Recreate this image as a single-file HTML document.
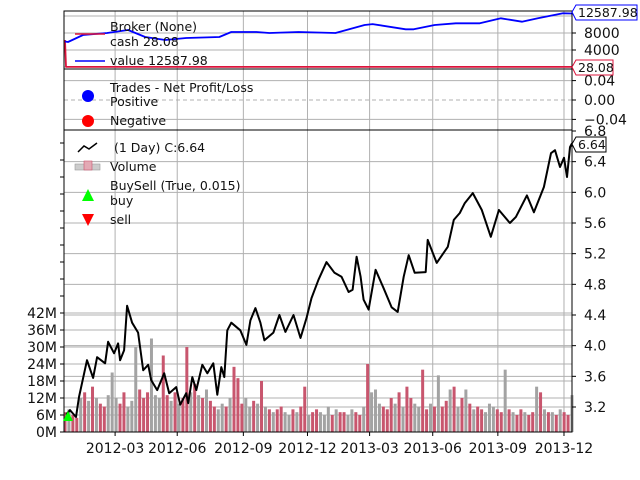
<!DOCTYPE html>
<html><head><meta charset="utf-8"><style>
html,body{margin:0;padding:0;background:#fff;}
svg{display:block;font-family:"DejaVu Sans","Liberation Sans",sans-serif;}
</style></head><body>
<svg id="chart" width="640" height="480" viewBox="0 0 640 480">
<g id="grid"></g>
<g id="bars"></g>
<g id="lines"></g>
<g id="axes"></g>
<g font-size="12.5" fill="#111">
  <line x1="75" y1="34" x2="105" y2="34" stroke="#dc143c" stroke-width="1.5"/>
  <text x="110" y="31">Broker (None)</text>
  <text x="110" y="46">cash 28.08</text>
  <line x1="75" y1="61" x2="105" y2="61" stroke="#0000ff" stroke-width="1.5"/>
  <text x="110" y="65">value 12587.98</text>
</g>
<g font-size="12.5" fill="#111">
  <text x="110" y="92">Trades - Net Profit/Loss</text>
  <circle cx="88" cy="96" r="6" fill="#0000ff"/>
  <text x="110" y="106">Positive</text>
  <circle cx="88" cy="121" r="6" fill="#ff0000"/>
  <text x="110" y="125">Negative</text>
</g>
<g font-size="12.5" fill="#111">
  <polyline points="78,152 84,146 89,149 97,143" fill="none" stroke="#000" stroke-width="1.5"/>
  <text x="114" y="152">(1 Day) C:6.64</text>
  <rect x="75" y="164" width="25" height="6" fill="#ccc" stroke="#999" stroke-width="0.6"/>
  <rect x="84" y="161" width="8" height="9" fill="#e3a9b4" stroke="#c8566e" stroke-width="0.6"/>
  <text x="110" y="171">Volume</text>
  <text x="110" y="190">BuySell (True, 0.015)</text>
  <polygon points="88,189 94,201 82,201" fill="#00ff00"/>
  <text x="110" y="205">buy</text>
  <polygon points="82,214 94,214 88,226" fill="#ff0000"/>
  <text x="110" y="224">sell</text>
</g>
<g font-size="12.5">
  <path d="M572,12 L576,5 L637,5 L637,20 L576,20 Z" fill="#fff" stroke="#0000ff"/>
  <text x="578" y="17" fill="#111">12587.98</text>
  <path d="M572,67 L576,60 L613,60 L613,75 L576,75 Z" fill="#fff" stroke="#dc143c"/>
  <text x="578" y="72" fill="#111">28.08</text>
  <path d="M572,144 L576,137 L606,137 L606,152 L576,152 Z" fill="#fff" stroke="#000"/>
  <text x="578" y="149" fill="#111">6.64</text>
</g>
<polygon points="68,411 73,421 63,421" fill="#00ff00"/>
</svg>
<script>
const tickDates = ["2012-03","2012-06","2012-09","2012-12","2013-03","2013-06","2013-09","2013-12"];
const tickDays = [50,112,178,242,304,367,432,498];
const priceTicks = [3.2,3.6,4.0,4.4,4.8,5.2,5.6,6.0,6.4,6.8];
const volTicks = [0,6,12,18,24,30,36,42];
const valueTicks = [4000,8000];
const tradeTicks = [-0.04,0.00,0.04];
const closeDays = [1,5,11,14,22,28,32,40,43,49,53,55,59,62,67,73,78,83,86,92,99,104,111,115,121,123,127,131,137,142,148,152,156,159,162,166,175,181,185,190,195,199,208,214,220,228,235,241,246,253,261,269,276,283,287,291,295,298,303,310,318,326,332,338,343,349,360,362,371,382,388,394,399,407,416,425,433,444,450,461,468,478,485,489,494,498,501,504,506];
const closeVals = [3.1,3.16,3.07,3.33,3.81,3.58,3.85,3.77,4.05,3.9,4.03,3.81,3.94,4.52,4.3,4.17,3.68,3.75,3.55,3.42,3.64,3.38,3.46,3.23,3.38,3.25,3.59,3.42,3.75,3.64,3.77,3.36,3.72,3.59,4.2,4.3,4.2,4.01,4.33,4.49,4.3,4.07,4.17,4.4,4.18,4.4,4.1,4.36,4.62,4.86,5.09,4.95,4.9,4.7,4.73,5.16,4.9,4.6,4.47,4.99,4.75,4.5,4.44,4.9,5.18,4.95,4.96,5.38,5.08,5.29,5.64,5.73,5.86,5.99,5.77,5.42,5.77,5.6,5.68,5.96,5.74,6.07,6.51,6.55,6.33,6.45,6.2,6.59,6.64];
const valueDays = [0,3,18,42,63,80,100,121,154,166,191,204,233,270,299,307,340,348,369,390,414,435,456,472,497,506];
const valueVals = [6000,5880,7530,8000,8700,7060,6350,6820,7060,8240,8240,8000,8240,8000,9880,10100,8870,8870,9880,10280,10280,11450,10660,11450,12630,12587.98];
const cashDays = [0,1,506];
const cashVals = [6350,28.08,28.08];
const volumes = [7,8,6,5,12,14,11,16,12,10,9,13,21,12,10,14,9,11,30,15,12,14,33,13,12,27,13,11,14,10,12,30,14,17,13,12,15,11,9,8,10,9,12,23,19,10,12,9,11,10,18,9,8,7,8,9,7,6,8,7,9,16,6,7,8,7,6,9,6,8,7,7,6,8,7,6,9,24,14,15,10,9,8,12,10,14,9,16,12,10,9,22,8,10,9,20,9,11,15,16,9,12,15,10,8,9,8,7,10,9,8,7,22,8,7,6,8,7,6,7,16,14,8,7,7,6,8,7,6,13];
const volUp = "rgrrgrgrgrrgggrrgggrrrgggrrgrgrrgrgrgrrggrgrrrggrgrgrgrrggrgrrgrrgggrgrrggrrgrgggrrrgrgrrggrrgrgrrgrgrgrgrrgggrrgrgrrgrrgrgrgrgrrgg";

const NS="http://www.w3.org/2000/svg";
const X0=64, X1=572, NDAYS=506;
const FS=14;
function xs(d){return X0+1+d*(X1-X0-1)/NDAYS;}
function yPrice(v){return 407-(v-3.2)*76.67;}
function yVol(v){return 432-v*17/6;}
function yValue(v){return 50-(v-4000)*17/4000;}
function yTrade(v){return 100-v*485;}
function mk(tag,attrs,parent){const e=document.createElementNS(NS,tag);for(const k in attrs)e.setAttribute(k,attrs[k]);parent.appendChild(e);return e;}
const grid=document.getElementById('grid'),bars=document.getElementById('bars'),lines=document.getElementById('lines'),axes=document.getElementById('axes');
const GC="#b0b0b0";
tickDays.forEach((d,i)=>{
  const x=xs(d);
  [[11,69],[69,130],[130,432]].forEach(p=>{
    const l=mk('line',{x1:x,x2:x,y1:p[0],y2:p[1],stroke:GC,'stroke-width':1},grid);
    
    
  });
  mk('line',{x1:x,x2:x,y1:432,y2:436,stroke:'#000'},axes);
  const t=mk('text',{x:x,y:453,'font-size':FS,'text-anchor':'middle',fill:'#111'},axes);
  t.textContent=tickDates[i];
  
  
});
priceTicks.forEach(v=>{
  const y=yPrice(v);
  if(v<6.8){const l=mk('line',{x1:X0,x2:X1,y1:y,y2:y,stroke:GC},grid);
  
  }
  mk('line',{x1:X1,x2:X1+4,y1:y,y2:y,stroke:'#000'},axes);
  const t=mk('text',{x:584,y:y+5,'font-size':FS,fill:'#111'},axes);
  t.textContent=v.toFixed(1);
  
  
});
volTicks.forEach(v=>{
  const y=yVol(v);
  const l=mk('line',{x1:X0,x2:X1,y1:y,y2:y,stroke:GC},grid);
  
  
  mk('line',{x1:X0-4,x2:X0,y1:y,y2:y,stroke:'#000'},axes);
  const t=mk('text',{x:X0-7,y:y+5,'font-size':FS,'text-anchor':'end',fill:'#111'},axes);
  t.textContent=v+'M';
  
  
});
for(let v=48;v<=108;v+=6){const y=yVol(v);if(y>131)mk('line',{x1:X0-4,x2:X0,y1:y,y2:y,stroke:'#000'},axes);}
valueTicks.forEach(v=>{
  const y=yValue(v);
  const l=mk('line',{x1:X0,x2:X1,y1:y,y2:y,stroke:GC},grid);
  
  
  mk('line',{x1:X1,x2:X1+4,y1:y,y2:y,stroke:'#000'},axes);
  const t=mk('text',{x:584,y:y+5,'font-size':FS,fill:'#111'},axes);
  t.textContent=v;
  
  
});
[12000,0].forEach(v=>{const y=yValue(v);mk('line',{x1:X0,x2:X1,y1:y,y2:y,stroke:GC},grid);});
tradeTicks.forEach(v=>{
  const y=yTrade(v);
  const l=mk('line',{x1:X0,x2:X1,y1:y,y2:y,stroke:GC,'stroke-dasharray':v===0?'4,3':'none'},grid);
  
  
  mk('line',{x1:X1,x2:X1+4,y1:y,y2:y,stroke:'#000'},axes);
  const t=mk('text',{x:584,y:y+5,'font-size':FS,fill:'#111'},axes);
  t.textContent=(v<0?'\u22120.04':v.toFixed(2));
  
  
});
const n=volumes.length;
volumes.forEach((v,i)=>{
  const d=i*NDAYS/(n-1);
  const x=xs(d);
  const y=yVol(v);
  const r=mk('rect',{x:x-1.5,y:y,width:3,height:432-y,fill:volUp[i%volUp.length]==='r'?'#c8566e':'#a3a3a3'},bars);
  
  
});
function poly(days,vals,yf,color,w,name){
  const pts=days.map((d,i)=>xs(d).toFixed(1)+','+yf(vals[i]).toFixed(1)).join(' ');
  const p=mk('polyline',{points:pts,fill:'none',stroke:color,'stroke-width':w,'stroke-linejoin':'round'},lines);
  
  
}
poly(cashDays,cashVals,yValue,'#dc143c',1.8,'cash-line');
poly(valueDays,valueVals,yValue,'#0000ff',1.8,'value-line');
poly(closeDays,closeVals,yPrice,'#000',2,'close-line');
[[11,69],[69,130],[130,432]].forEach(p=>{
  const r=mk('rect',{x:X0,y:p[0],width:X1-X0,height:p[1]-p[0],fill:'none',stroke:'#000','stroke-width':1},axes);
  
  
});
</script>
</body></html>
